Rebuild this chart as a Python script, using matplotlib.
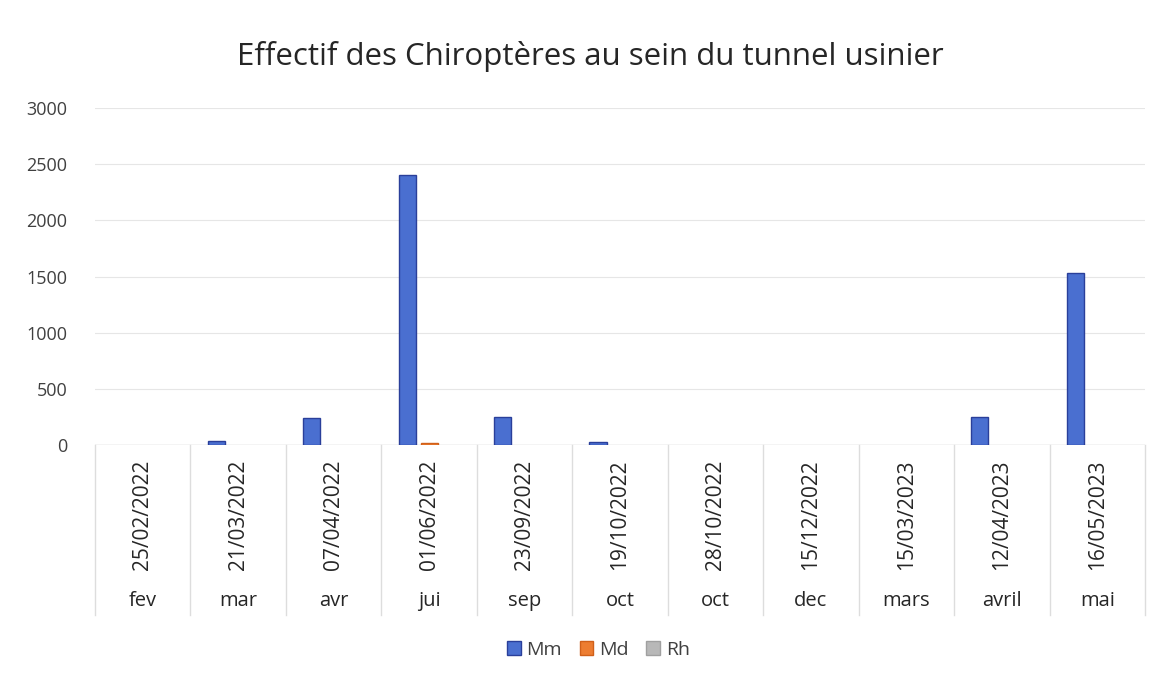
import matplotlib
matplotlib.use("Agg")
import matplotlib.pyplot as plt
import matplotlib.transforms as mtransforms
from matplotlib.patches import Patch
import numpy as np

plt.rcParams['font.family'] = ['Open Sans', 'DejaVu Sans']

dates = ["25/02/2022", "21/03/2022", "07/04/2022", "01/06/2022", "23/09/2022",
         "19/10/2022", "28/10/2022", "15/12/2022", "15/03/2023", "12/04/2023",
         "16/05/2023"]
months = ["fev", "mar", "avr", "jui", "sep", "oct", "oct", "dec", "mars", "avril", "mai"]
series_names = ["Mm", "Md", "Rh"]
mm = [0, 35, 240, 2400, 250, 25, 0, 0, 0, 250, 1530]
md = [0, 0, 0, 15, 0, 0, 0, 0, 0, 0, 0]
rh = [0, 0, 0, 0, 0, 0, 0, 0, 0, 0, 0]
yticks = [0, 500, 1000, 1500, 2000, 2500, 3000]

colors = ["#4A6FD0", "#ED7D31", "#B8B8B8"]
edges = ["#2A3F9A", "#D0601A", "#A0A0A0"]

fig = plt.figure(figsize=(11.62, 6.8), dpi=100)
ax = fig.add_axes([95/1162, 1-445/680, (1145-95)/1162, (445-108)/680])

n = len(dates)
x = np.arange(n)
width = 0.18
offsets = [-0.23, 0.0, 0.23]
handles = []
for vals, off, c, e, name in zip([mm, md, rh], offsets, colors, edges, series_names):
    b = ax.bar(x + off, vals, width, color=c, edgecolor=e, linewidth=1.0, label=name, zorder=3)
    for p in b.patches:
        if p.get_height() == 0:
            p.set_visible(False)
    handles.append(Patch(facecolor=c, edgecolor=e, linewidth=1.0, label=name))

ax.set_xlim(-0.5, n - 0.5)
ax.set_ylim(0, 3000)
ax.set_yticks(yticks)
ax.set_yticklabels([str(v) for v in yticks], fontsize=13, color="#404040")
ax.tick_params(axis='y', length=0, pad=20)
ax.set_xticks([])
for s in ["top", "right", "left", "bottom"]:
    ax.spines[s].set_visible(False)
ax.yaxis.grid(True, color="#E6E6E6", linewidth=0.8, zorder=0)
ax.axhline(0, color="#D0D0D0", linewidth=1.0, zorder=2)

trans = mtransforms.blended_transform_factory(ax.transData, ax.transAxes)
for b in np.arange(-0.5, n, 1.0):
    ax.plot([b, b], [0, -0.505], transform=trans, color="#DDDDDD", linewidth=1.0, clip_on=False)
for i in range(n):
    ax.text(i, -0.208, dates[i], transform=trans, rotation=90, ha='center', va='center',
            fontsize=15, color="#262626")
    ax.text(i, -0.463, months[i], transform=trans, ha='center', va='center',
            fontsize=14.5, color="#262626")

fig.text(0.508, 1-57/680, "Effectif des Chiroptères au sein du tunnel usinier",
         ha='center', va='center', fontsize=22.5, color="#262626")

fig.legend(handles=handles, labels=series_names, loc='center', bbox_to_anchor=(0.515, 1-650/680),
           ncol=3, frameon=False, fontsize=14, handlelength=0.7, handleheight=0.7,
           columnspacing=0.9, handletextpad=0.3, labelcolor="#404040")

fig.savefig("out.png", dpi=100)
